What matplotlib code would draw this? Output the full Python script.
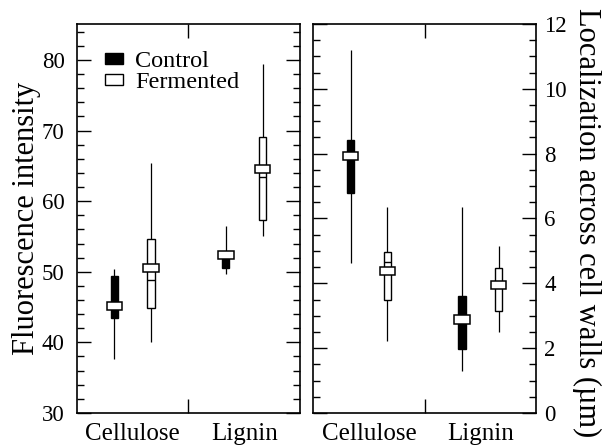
import numpy as np
import matplotlib
matplotlib.use('Agg')
import matplotlib.pyplot as plt
from matplotlib.patches import Patch
from matplotlib.ticker import MultipleLocator

plt.rcParams['font.family'] = ['Liberation Serif', 'DejaVu Serif']

categories = ['Cellulose', 'Lignin']
groups = ['Control', 'Fermented']

# fluorescence intensity, order: Cellulose, Lignin
fl_ctrl_low = [37.7, 49.7]
fl_ctrl_q1 = [43.4, 50.5]
fl_ctrl_med = [45.2, 52.4]
fl_ctrl_q3 = [49.4, 52.8]
fl_ctrl_high = [50.4, 56.5]

fl_ferm_low = [40.1, 55.1]
fl_ferm_q1 = [44.8, 57.3]
fl_ferm_med = [50.5, 64.6]
fl_ferm_q3 = [54.6, 69.1]
fl_ferm_high = [65.4, 79.4]
fl_ferm_mean = [48.9, 63.4]

# localization across cell walls (um)
loc_ctrl_low = [4.62, 1.31]
loc_ctrl_q1 = [6.78, 1.97]
loc_ctrl_med = [7.93, 2.88]
loc_ctrl_q3 = [8.43, 3.61]
loc_ctrl_high = [11.2, 6.35]

loc_ferm_low = [2.23, 2.51]
loc_ferm_q1 = [3.47, 3.16]
loc_ferm_med = [4.38, 3.95]
loc_ferm_q3 = [4.98, 4.47]
loc_ferm_high = [6.35, 5.15]
loc_ferm_mean = [4.67, np.nan]


def draw_boxes(ax, pos, low, q1, med, q3, high, color, med_h, mean=None):
    pos = np.asarray(pos)
    ax.vlines(pos, low, high, color='black', lw=0.9, zorder=1)
    ax.bar(pos, np.subtract(q3, q1), bottom=q1, width=0.13, color=color,
           edgecolor='black', lw=1.0, zorder=2)
    if mean is not None:
        ax.hlines(mean, pos - 0.065, pos + 0.065, color='black', lw=1.0, zorder=3)
    ax.bar(pos, med_h, bottom=np.asarray(med) - med_h / 2, width=0.28,
           color='white', edgecolor='black', lw=1.1, zorder=4)


def style_axis(ax):
    ax.set_xlim(0, 4)
    ax.set_xticks([2])
    ax.set_xticklabels([''])
    ax.set_xticks([1, 3], minor=True)
    ax.set_xticklabels(categories, minor=True, fontsize=18)
    ax.tick_params(axis='x', which='major', direction='in', top=True, length=10, width=1.0)
    ax.tick_params(axis='x', which='minor', length=0, pad=7)
    ax.tick_params(axis='y', which='both', direction='in', left=True, right=True, width=1.0)
    ax.tick_params(axis='y', which='major', length=10)
    ax.tick_params(axis='y', which='minor', length=5)
    for s in ax.spines.values():
        s.set_linewidth(1.2)


fig = plt.figure(figsize=(6.04, 4.45), dpi=100)
ax1 = fig.add_axes([0.1275, 0.072, 0.369, 0.874])
ax2 = fig.add_axes([0.5187, 0.072, 0.3687, 0.874])

x_ctrl = np.array([0.67, 2.67])
x_ferm = np.array([1.33, 3.33])

# left panel
draw_boxes(ax1, x_ctrl, fl_ctrl_low, fl_ctrl_q1, fl_ctrl_med, fl_ctrl_q3, fl_ctrl_high,
           'black', 1.15)
draw_boxes(ax1, x_ferm, fl_ferm_low, fl_ferm_q1, fl_ferm_med, fl_ferm_q3, fl_ferm_high,
           'white', 1.15, fl_ferm_mean)
style_axis(ax1)
ax1.set_ylim(30, 85.1)
ax1.yaxis.set_major_locator(MultipleLocator(10))
ax1.yaxis.set_minor_locator(MultipleLocator(2))
ax1.tick_params(axis='y', labelsize=16.5, pad=9)
ax1.set_ylabel('Fluorescence intensity', fontsize=22, va='center')
ax1.yaxis.set_label_coords(-0.228, 0.5)

handles = [Patch(facecolor='black', edgecolor='black', label=groups[0]),
           Patch(facecolor='white', edgecolor='black', label=groups[1])]
ax1.legend(handles=handles, loc='upper left', bbox_to_anchor=(0.08, 0.955),
           frameon=False, fontsize=17.5, handlelength=0.75, handleheight=0.3,
           handletextpad=0.5, labelspacing=0.0, borderaxespad=0)

# right panel
draw_boxes(ax2, x_ctrl, loc_ctrl_low, loc_ctrl_q1, loc_ctrl_med, loc_ctrl_q3, loc_ctrl_high,
           'black', 0.26)
draw_boxes(ax2, x_ferm, loc_ferm_low, loc_ferm_q1, loc_ferm_med, loc_ferm_q3, loc_ferm_high,
           'white', 0.26, loc_ferm_mean)
style_axis(ax2)
ax2.set_ylim(0, 12)
ax2.yaxis.set_major_locator(MultipleLocator(2))
ax2.yaxis.set_minor_locator(MultipleLocator(0.5))
ax2.tick_params(axis='y', labelleft=False, labelright=True, labelsize=16.5, pad=6)
ax2.yaxis.set_label_position('right')
ax2.set_ylabel('Localization across cell walls (\u00b5m)', fontsize=22, rotation=270,
               va='center')
ax2.yaxis.set_label_coords(1.229, 0.49)

fig.savefig('out.png', dpi=100)
